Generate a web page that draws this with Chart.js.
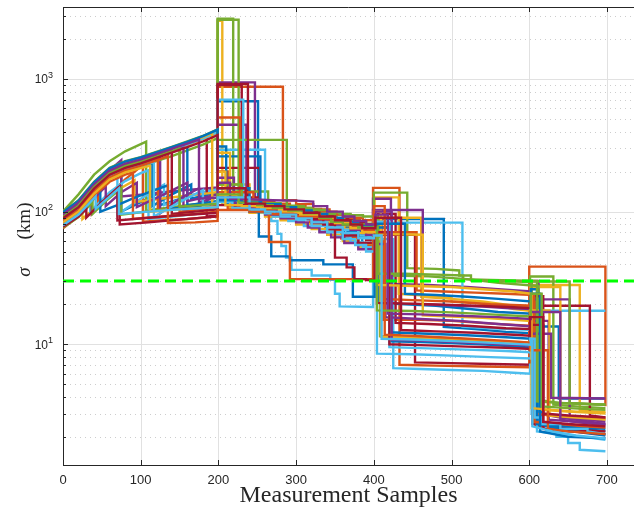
<!DOCTYPE html>
<html>
<head>
<meta charset="utf-8">
<script src="https://cdn.jsdelivr.net/npm/chart.js@4.4.1/dist/chart.umd.min.js"></script>
<style>
  html, body { margin: 0; padding: 0; background: #fff; }
  #plot { display: block; }
</style>
</head>
<body>
<canvas id="plot" width="634" height="510"></canvas>
<script>
// axis setup
const xTickValues = [0, 100, 200, 300, 400, 500, 600, 700];
const yDecades = [10, 100, 1000];
const yMinorFactors = [2, 3, 4, 5, 6, 7, 8, 9];
const xRange = [0, 734.8];
const yRange = [1.228, 3494];
const threshold = 30;

// matlab default colour order, runs cycle through it
const runColors = ['#0072BD', '#D95319', '#EDB120', '#7E2F8E', '#77AC30', '#4DBEEE', '#A2142F'];

// each run: x, sigma pairs
const r01 = [0,90, 20,110, 40,152, 60,193, 75,212, 75,100, 100,118, 125,140, 125,112, 160,130, 199,150, 199,680, 251,680, 251,112, 272,112, 272,104, 295,104, 295,95, 318,95, 318,86, 340,86, 340,76, 362,76, 362,66, 385,66, 385,58, 402,58, 402,88, 490,88, 490,13.5, 530,13, 570,12.4, 602,12.1, 602,13.6, 638,13.6, 638,3.9, 698,3.9];
const r02 = [0,75, 20,92, 40,125, 45,132, 45,108, 60,135, 80,175, 103,225, 103,84, 130,86, 160,88, 199,92, 199,875, 283,875, 283,122, 300,122, 300,114, 322,114, 322,104, 343,104, 343,95, 362,95, 362,87, 382,87, 382,79, 399,79, 399,151, 433,151, 433,7.0, 480,6.9, 540,6.8, 600,6.7, 600,38.5, 698,38.5, 698,3.4];
const r03 = [0,95, 20,117, 40,160, 60,205, 80,230, 100,248, 120,272, 140,298, 160,328, 180,362, 199,405, 199,2750, 205,2750, 205,113, 232,113, 232,108, 255,108, 255,102, 276,102, 276,95, 298,95, 298,88, 318,88, 318,80, 338,80, 338,71, 358,71, 358,63, 380,63, 380,56, 401,56, 401,128, 432,128, 432,24, 470,23.2, 500,22.2, 500,21, 530,20.6, 560,19.6, 580,18.4, 602,17.8, 602,28, 665,28, 665,3.2, 698,3.05];
const r04 = [0,85, 20,102, 40,145, 60,205, 75,245, 75,130, 100,134, 130,140, 160,146, 199,152, 199,943, 247,943, 247,118, 268,118, 268,111, 292,111, 292,104, 318,104, 318,96, 345,96, 345,88, 372,88, 372,80, 399,80, 399,125, 422,125, 422,28.5, 470,28, 520,27, 560,26, 603,25, 603,30, 612,30, 612,3.0, 640,2.8, 670,2.65, 698,2.5];
const r05 = [0,100, 20,135, 40,190, 60,240, 80,285, 107,337, 107,102, 140,108, 170,114, 199,120, 199,2850, 219,2850, 219,142, 264,142, 264,108, 288,108, 288,102, 310,102, 310,96, 330,96, 330,90, 350,90, 350,84, 370,84, 370,78, 386,78, 386,73, 400,73, 400,139, 443,139, 443,37.5, 480,37, 510,36, 510,33, 525,33, 525,30.5, 560,30, 601,29.5, 601,32.4, 631,32.4, 631,3.5, 660,3.4, 698,3.3];
const r06 = [0,92, 20,110, 40,150, 60,192, 70,205, 70,95, 100,125, 130,160, 130,112, 170,135, 199,148, 199,293, 260,293, 260,100, 268,100, 268,85, 276,85, 276,68, 281,68, 281,55, 287,55, 287,45, 294,45, 294,36.4, 320,36.4, 320,33, 344,33, 344,30.6, 350,30.6, 350,24, 356,24, 356,19.3, 399,19.1, 399,82.6, 514,82.6, 514,13.6, 550,13.2, 604,12.8, 604,17.9, 698,17.9];
const r07 = [0,96, 20,118, 40,162, 60,208, 80,233, 100,251, 120,274, 140,300, 160,330, 185,380, 185,92, 199,93, 199,214, 253,214, 253,110, 278,110, 278,103, 300,103, 300,96, 328,96, 328,87, 350,87, 350,77, 370,77, 370,68, 390,68, 390,61, 403,61, 403,67, 453,67, 453,7.3, 500,7.2, 550,7.1, 602,7.0, 602,19.5, 678,19.5, 678,2.9, 698,2.8];
const r08 = [0,88, 20,105, 40,145, 60,185, 80,207, 100,222, 115,232, 115,110, 140,135, 165,160, 165,125, 199,140, 199,261, 254,261, 254,115, 275,115, 275,109, 298,109, 298,102, 322,102, 322,94, 344,94, 344,86, 360,86, 360,78, 380,78, 380,72, 406,72, 406,20.5, 440,20, 480,19.5, 520,18.5, 560,17.5, 604,17, 604,22, 616,22, 616,2.6, 650,2.4, 698,2.2];
const r09 = [0,98, 20,120, 40,165, 60,210, 80,236, 100,254, 120,277, 140,303, 150,316, 150,100, 175,104, 199,107, 199,201, 212,201, 212,105, 240,105, 240,102, 262,102, 262,98, 288,98, 288,92, 318,92, 318,84, 338,84, 338,72, 358,72, 358,63, 380,63, 380,55, 400,55, 400,60, 412,60, 412,15.3, 460,15.3, 500,15, 550,14.3, 601,13.8, 601,22.5, 608,22.5, 608,2.4, 640,2.3, 670,2.2, 698,2.1];
const r10 = [0,78, 25,100, 25,88, 45,112, 65,140, 92,172, 92,118, 120,124, 150,130, 175,135, 199,140, 199,160, 240,160, 240,98, 260,98, 260,92, 280,92, 280,86, 300,86, 300,80, 320,80, 320,74, 340,74, 340,67, 360,67, 360,60, 380,60, 380,54, 400,54, 400,90, 461,90, 461,22.8, 500,22, 540,21, 580,19.5, 602,19, 602,27, 640,27, 640,2.9, 698,2.7];
const r11 = [0,93, 20,114, 40,156, 60,200, 80,226, 100,243, 125,270, 125,97, 150,125, 175,150, 175,118, 199,128, 199,452, 236,452, 236,112, 260,112, 260,107, 288,107, 288,100, 318,100, 318,93, 348,93, 348,84, 372,84, 372,77, 399,77, 399,103, 463,103, 463,20, 500,19.6, 540,19.2, 575,18.7, 603,18.4, 603,21.8, 652,21.8, 652,2.8, 698,2.6];
const r12 = [0,86, 20,103, 40,142, 60,182, 80,205, 100,220, 120,240, 140,262, 160,290, 180,320, 199,358, 199,2800, 226,2800, 226,118, 250,118, 250,113, 270,113, 270,108, 290,108, 290,103, 312,103, 312,98, 332,98, 332,93, 352,93, 352,89, 368,89, 368,85, 385,85, 385,81, 408,81, 408,11.5, 450,11.2, 500,10.8, 550,10.3, 603,9.8, 603,29.7, 652,29.7, 652,3.6, 698,3.5];
const r13 = [0,82, 20,98, 35,122, 35,100, 60,140, 80,170, 100,195, 110,205, 110,88, 140,92, 170,96, 199,99, 199,125, 230,125, 230,104, 250,104, 250,99, 270,99, 270,92, 290,92, 290,85, 310,85, 310,78, 330,78, 330,71, 350,71, 350,65, 370,65, 370,59, 386,59, 386,54, 399,54, 399,62, 425,62, 425,6.6, 460,6.5, 500,6.4, 540,6.3, 580,6.1, 601,6.0, 601,7.0, 603,7.0, 603,3.0, 612,3.0, 612,2.5, 622,2.5, 622,2.2, 635,2.2, 635,2.0, 650,2.0, 650,1.8, 665,1.8, 665,1.6, 698,1.56];
const r14 = [0,84, 20,100, 37,130, 37,96, 55,122, 73,155, 73,80, 110,83, 150,87, 199,92, 199,900, 230,900, 230,128, 250,128, 250,121, 270,121, 270,114, 290,114, 290,107, 310,107, 310,100, 330,100, 330,94, 350,94, 350,88, 372,88, 372,84, 390,84, 390,80, 405,80, 405,96, 428,96, 428,14.5, 470,14.2, 520,13.8, 570,13.2, 604,13, 604,2.5, 640,2.35, 670,2.25, 698,2.2];
const r15 = [0,96, 20,118, 40,162, 60,206, 80,232, 100,250, 120,273, 140,299, 160,328, 160,112, 180,116, 199,120, 199,310, 210,310, 210,116, 240,116, 240,112, 262,112, 262,108, 282,108, 282,104, 302,104, 302,99, 322,99, 322,94, 336,94, 336,88, 350,88, 350,79, 366,79, 366,70, 382,70, 382,64, 400,64, 400,76, 420,76, 420,10.5, 460,10.4, 500,10.2, 550,9.9, 602,9.4, 602,12, 612,12, 612,2.5, 640,2.3, 670,2.15, 698,2.05];
const r16 = [0,90, 20,110, 40,150, 60,190, 80,214, 100,230, 122,253, 122,103, 160,108, 199,113, 199,513, 228,513, 228,124, 250,124, 250,119, 272,119, 272,115, 292,115, 292,110, 312,110, 312,105, 332,105, 332,100, 352,100, 352,95, 370,95, 370,90, 386,90, 386,86, 410,86, 410,22, 450,21.5, 500,21, 550,20, 605,19.5, 605,3.0, 630,2.9, 660,2.85, 698,2.75];
const r17 = [0,88, 20,108, 40,150, 60,195, 80,222, 100,240, 120,263, 140,290, 160,318, 180,352, 199,395, 199,278, 215,278, 215,108, 240,108, 240,105, 262,105, 262,101, 282,101, 282,96, 302,96, 302,90, 322,90, 322,84, 342,84, 342,79, 362,79, 362,74, 380,74, 380,69, 400,69, 400,100, 409,100, 409,11.4, 450,11.3, 500,11, 550,10.6, 602,10.3, 602,14, 615,14, 615,3.2, 650,3.1, 698,3.0];
const r18 = [0,80, 20,96, 55,155, 55,110, 75,140, 95,165, 95,108, 130,135, 160,165, 160,120, 199,135, 199,180, 220,180, 220,104, 240,104, 240,100, 260,100, 260,95, 280,95, 280,89, 300,89, 300,83, 315,83, 315,76, 330,76, 330,70, 345,70, 345,64, 362,64, 362,58, 380,58, 380,52, 402,52, 402,57, 415,57, 415,16, 460,15.5, 510,15, 560,14.2, 604,13.6, 604,15, 625,15, 625,2.7, 660,2.6, 698,2.5];
const r19 = [0,76, 20,91, 38,118, 38,96, 55,120, 75,150, 75,95, 100,99, 130,104, 160,108, 199,113, 199,348, 288,348, 288,110, 310,110, 310,104, 330,104, 330,96, 350,96, 350,89, 362,89, 362,85, 372,85, 372,80, 386,80, 386,76, 402,76, 402,82, 420,82, 420,33, 470,32.5, 520,31, 560,29, 612,27.5, 612,3.8, 640,3.6, 670,3.55, 698,3.5];
const r20 = [0,94, 20,115, 40,158, 60,200, 80,226, 100,244, 120,268, 140,294, 160,322, 180,355, 199,398, 199,700, 232,700, 232,110, 250,110, 250,107, 270,107, 270,102, 290,102, 290,96, 305,96, 305,91, 322,91, 322,85, 340,85, 340,79, 360,79, 360,73, 380,73, 380,66, 404,66, 404,8.5, 450,8.4, 500,8.2, 550,8, 602,7.8, 602,10, 610,10, 610,2.2, 640,2.1, 670,2.0, 698,1.9];
const r21 = [0,92, 20,112, 40,154, 60,196, 80,222, 100,238, 120,262, 140,288, 140,96, 170,100, 199,104, 199,920, 238,920, 238,105, 260,105, 260,100, 280,100, 280,95, 300,95, 300,89, 320,89, 320,82, 340,82, 340,74, 360,74, 360,66, 380,66, 380,58, 404,58, 404,20.5, 450,20.2, 500,19.8, 540,19.4, 580,19, 605,18.7, 605,23, 618,23, 618,2.3, 650,2.2, 698,2.1];
const r22 = [0,85, 20,102, 40,140, 48,152, 48,100, 70,112, 90,126, 110,140, 135,158, 135,105, 170,110, 199,115, 199,150, 240,150, 240,100, 252,100, 252,65, 268,65, 268,46, 292,46, 292,43, 335,43, 335,40, 373,40, 373,22.8, 401,22.8, 401,76, 420,76, 420,12.3, 470,12, 520,11.7, 570,11.3, 602,11, 602,26, 610,26, 610,2.5, 640,2.4, 698,2.3];
const r23 = [0,80, 20,96, 40,132, 60,168, 80,190, 90,198, 90,88, 130,92, 170,96, 199,100, 199,140, 245,140, 245,108, 265,108, 265,59, 292,59, 292,31, 399,31, 399,70, 455,70, 455,25.5, 490,25, 530,24.5, 570,24, 606,23.5, 606,2.6, 640,2.5, 670,2.4, 698,2.35];
const r24 = [0,97, 20,119, 40,163, 60,208, 80,233, 100,251, 120,275, 140,301, 160,330, 180,365, 192,392, 192,108, 199,109, 199,132, 225,132, 225,112, 250,112, 250,108, 275,108, 275,103, 300,103, 300,98, 320,98, 320,92, 340,92, 340,86, 360,86, 360,79, 380,79, 380,73, 399,73, 399,68, 463,67, 463,16.5, 500,16.2, 540,15.8, 580,15.3, 601,15, 601,18, 626,18, 626,2.9, 660,2.8, 698,2.7];
const r25 = [0,90, 20,110, 40,152, 60,194, 80,218, 100,235, 120,258, 140,283, 155,303, 155,104, 180,107, 199,110, 199,128, 222,128, 222,107, 245,107, 245,104, 270,104, 270,99, 295,99, 295,93, 320,93, 320,87, 345,87, 345,80, 370,80, 370,73, 390,73, 390,67, 402,67, 402,100, 423,100, 423,10.8, 470,10.6, 520,10.3, 570,10, 602,9.8, 602,12, 628,12, 628,3.95, 698,3.9];
const r26 = [0,99, 20,122, 40,168, 60,214, 80,240, 100,258, 120,282, 140,308, 160,338, 180,372, 199,418, 199,160, 230,160, 230,120, 255,120, 255,116, 280,116, 280,111, 300,111, 300,107, 320,107, 320,103, 340,103, 340,99, 356,99, 356,96, 370,96, 370,94, 386,94, 386,92, 405,92, 405,34, 440,34, 480,33.5, 515,33, 515,31, 550,30.5, 610,30, 610,3.7, 640,3.6, 698,3.5];
const r27 = [0,87, 20,104, 40,143, 60,182, 80,206, 100,222, 117,236, 117,92, 150,118, 180,145, 180,110, 199,118, 218,118, 218,106, 240,106, 240,102, 260,102, 260,97, 280,97, 280,92, 300,92, 300,87, 320,87, 320,78, 340,78, 340,70, 360,70, 360,62, 376,62, 376,56, 390,56, 390,50, 401,50, 401,84, 420,84, 420,9.5, 470,9.3, 520,9.1, 570,8.9, 601,8.7, 601,11, 607,11, 607,2.8, 615,2.8, 615,2.5, 640,2.5, 640,2.3, 675,2.3, 675,2.2, 698,2.1];
const r28 = [0,77, 20,92, 30,105, 30,90, 50,118, 70,150, 70,86, 110,90, 150,94, 199,98, 199,112, 255,112, 255,104, 275,104, 275,99, 295,99, 295,94, 315,94, 315,88, 335,88, 335,80, 350,80, 350,45, 365,45, 365,38, 375,38, 375,31, 390,31, 390,30.5, 401,30.5, 401,70, 420,70, 420,10, 470,9.8, 520,9.6, 570,9.4, 603,9.2, 603,14, 618,14, 618,3.0, 650,2.9, 698,2.8];
const r29 = [0,99, 20,121, 40,166, 60,212, 80,238, 100,256, 120,280, 140,306, 160,336, 180,371, 199,416, 199,122, 230,122, 230,118, 255,118, 255,114, 280,114, 280,108, 300,108, 300,102, 320,102, 320,96, 340,96, 340,90, 360,90, 360,84, 380,84, 380,78, 403,78, 403,81, 440,81, 440,24, 480,23.5, 520,22.8, 560,22, 602,21, 602,24, 614,24, 614,2.2, 650,2.0, 698,1.95];
const r30 = [0,86, 20,103, 40,142, 60,181, 80,205, 100,221, 120,244, 135,262, 135,82, 170,83, 199,85, 199,103, 240,103, 240,100, 270,100, 270,96, 300,96, 300,92, 330,92, 330,88, 350,88, 350,82, 370,82, 370,76, 385,76, 385,72, 400,72, 400,110, 414,110, 414,11.8, 460,11.5, 510,11.1, 560,10.7, 601,10.3, 601,9.0, 624,9.0, 624,2.3, 650,2.2, 698,2.1];
const r31 = [0,83, 20,100, 40,137, 60,175, 80,198, 100,213, 112,222, 112,100, 150,104, 199,109, 199,200, 209,200, 209,112, 230,112, 230,110, 255,110, 255,106, 280,106, 280,100, 305,100, 305,95, 330,95, 330,90, 350,90, 350,82, 370,82, 370,75, 385,75, 385,70, 404,70, 404,28, 450,27.5, 500,27, 540,26, 580,25, 603,24, 603,3.3, 630,3.2, 660,3.1, 698,3.1];
const r32 = [0,95, 20,117, 40,160, 60,204, 80,229, 100,247, 120,271, 140,297, 160,326, 175,350, 175,125, 199,128, 199,165, 215,165, 215,125, 240,124, 270,122, 300,121, 322,119, 322,110, 340,110, 340,100, 360,100, 360,92, 375,92, 375,85, 390,85, 390,80, 402,80, 402,95, 418,95, 418,17, 460,16.8, 510,16.4, 560,16, 602,15.5, 602,17.5, 640,17.5, 640,2.7, 670,2.55, 698,2.45];
const r33 = [0,91, 20,111, 40,153, 60,195, 80,220, 100,237, 120,260, 140,285, 150,300, 150,109, 175,112, 199,115, 199,135, 226,135, 226,117, 250,117, 250,112, 270,112, 270,107, 290,107, 290,102, 310,102, 310,97, 330,97, 330,90, 345,90, 345,84, 360,84, 360,80, 380,80, 380,76, 404,76, 404,18, 450,17.8, 500,17.4, 550,16.8, 602,16.2, 602,24, 616,24, 616,3.4, 650,3.3, 698,3.2];
const r34 = [0,79, 20,95, 42,130, 42,105, 60,130, 72,150, 72,96, 110,100, 150,104, 199,108, 199,128, 240,128, 240,104, 260,104, 260,100, 280,100, 280,95, 300,95, 300,89, 320,89, 320,83, 340,83, 340,76, 360,76, 360,69, 380,69, 380,63, 400,63, 400,66, 410,66, 410,11, 460,10.8, 510,10.5, 560,10.2, 602,9.9, 602,11, 604,11, 604,2.4, 630,2.2, 660,2.05, 698,1.95];
const r35 = [0,89, 20,108, 40,149, 60,190, 80,214, 100,231, 120,254, 140,279, 160,306, 180,338, 199,378, 199,150, 235,150, 235,115, 260,115, 260,110, 285,110, 285,104, 310,104, 310,98, 330,98, 330,92, 350,92, 350,86, 370,86, 370,80, 385,80, 385,75, 402,75, 402,90, 435,90, 435,12.8, 480,12.5, 530,12.2, 580,11.8, 601,11.6, 601,16, 618,16, 618,2.6, 650,2.5, 698,2.4];

const runs = [r01, r02, r03, r04, r05, r06, r07, r08, r09, r10, r11, r12, r13, r14, r15, r16, r17, r18,
              r19, r20, r21, r22, r23, r24, r25, r26, r27, r28, r29, r30, r31, r32, r33, r34, r35];

function toPoints(flat) {
    const pts = [];
    for (let i = 0; i < flat.length; i += 2) pts.push({ x: flat[i], y: flat[i + 1] });
    return pts;
}

const datasets = runs.map((r, i) => ({
    data: toPoints(r),
    borderColor: runColors[i % runColors.length],
    borderWidth: 2.4,
    order: 100 - i // later runs on top, like matlab
}));

// the dashed limit line goes on top of everything
datasets.push({
    data: [{ x: xRange[0], y: threshold }, { x: xRange[1], y: threshold }],
    borderColor: '#00FF00',
    borderWidth: 3,
    borderDash: [11, 6],
    order: 0
});

const ink = '#262626';

// matlab-ish axes: dotted minor grid, inward ticks, box top, 10^n labels
const axesLook = {
    id: 'axesLook',
    beforeDatasetsDraw(chart) {
        const { ctx, chartArea: a, scales: { x, y } } = chart;
        ctx.save();
        ctx.lineWidth = 1;

        ctx.strokeStyle = '#cdcdcd';
        ctx.setLineDash([1, 4]);
        [1, 10, 100, 1000].forEach(d => {
            yMinorFactors.forEach(k => {
                const v = d * k;
                if (v <= yRange[0] || v >= yRange[1]) return;
                const py = Math.round(y.getPixelForValue(v)) + 0.5;
                ctx.beginPath(); ctx.moveTo(a.left + 2, py); ctx.lineTo(a.right, py); ctx.stroke();
            });
        });
        ctx.setLineDash([]);

        ctx.strokeStyle = '#e1e1e1';
        xTickValues.forEach(v => {
            if (v === 0) return;
            const px = Math.round(x.getPixelForValue(v)) + 0.5;
            ctx.beginPath(); ctx.moveTo(px, a.top); ctx.lineTo(px, a.bottom); ctx.stroke();
        });
        yDecades.forEach(v => {
            const py = Math.round(y.getPixelForValue(v)) + 0.5;
            ctx.beginPath(); ctx.moveTo(a.left, py); ctx.lineTo(a.right, py); ctx.stroke();
        });
        ctx.restore();
    },
    afterDatasetsDraw(chart) {
        const { ctx, chartArea: a, scales: { x, y } } = chart;
        ctx.save();
        ctx.strokeStyle = ink;
        ctx.lineWidth = 1;

        // top edge of the box
        ctx.beginPath(); ctx.moveTo(a.left, a.top + 0.5); ctx.lineTo(a.right, a.top + 0.5); ctx.stroke();

        // x ticks, pointing in, top and bottom
        xTickValues.forEach(v => {
            const px = Math.round(x.getPixelForValue(v)) + 0.5;
            ctx.beginPath();
            ctx.moveTo(px, a.bottom); ctx.lineTo(px, a.bottom - 5);
            ctx.moveTo(px, a.top); ctx.lineTo(px, a.top + 5);
            ctx.stroke();
        });

        // y ticks
        [1, 10, 100, 1000].forEach(d => {
            yMinorFactors.forEach(k => {
                const v = d * k;
                if (v <= yRange[0] || v >= yRange[1]) return;
                const py = Math.round(y.getPixelForValue(v)) + 0.5;
                ctx.beginPath(); ctx.moveTo(a.left, py); ctx.lineTo(a.left + 3, py); ctx.stroke();
            });
        });
        yDecades.forEach(v => {
            const py = Math.round(y.getPixelForValue(v)) + 0.5;
            ctx.beginPath(); ctx.moveTo(a.left, py); ctx.lineTo(a.left + 5, py); ctx.stroke();
        });

        // 10^n labels
        ctx.fillStyle = ink;
        ctx.textAlign = 'right';
        ctx.textBaseline = 'middle';
        yDecades.forEach(v => {
            const py = y.getPixelForValue(v);
            const exp = String(Math.round(Math.log10(v)));
            const right = a.left - 10;
            ctx.font = '9px "Liberation Sans", Arial, sans-serif';
            const we = ctx.measureText(exp).width;
            ctx.fillText(exp, right, py - 4);
            ctx.font = '12px "Liberation Sans", Arial, sans-serif';
            ctx.fillText('10', right - we, py + 1);
        });

        // y title: sigma (km), rotated
        ctx.translate(25, 0);
        ctx.rotate(-Math.PI / 2);
        ctx.textAlign = 'center';
        ctx.font = 'italic 19px "Liberation Serif", serif';
        ctx.fillText('σ', -272, 0);
        ctx.font = '19px "Liberation Serif", serif';
        ctx.fillText('(km)', -221, 0);
        ctx.restore();
    }
};

new Chart(document.getElementById('plot'), {
    type: 'line',
    data: { datasets },
    plugins: [axesLook],
    options: {
        responsive: false,
        animation: false,
        devicePixelRatio: 1,
        layout: { padding: { top: 7, right: 0, bottom: 0, left: 0 } },
        plugins: { legend: { display: false }, tooltip: { enabled: false } },
        elements: {
            point: { radius: 0 },
            line: { tension: 0, borderJoinStyle: 'miter', borderCapStyle: 'butt', fill: false }
        },
        scales: {
            x: {
                type: 'linear',
                min: xRange[0],
                max: xRange[1],
                afterBuildTicks: s => { s.ticks = xTickValues.map(v => ({ value: v })); },
                afterFit: s => { s.height = 45; },
                grid: { display: false, drawTicks: false },
                border: { color: ink, width: 1 },
                ticks: {
                    color: ink,
                    padding: 8,
                    maxRotation: 0,
                    font: { family: '"Liberation Sans", Arial, sans-serif', size: 13 }
                },
                title: {
                    display: true,
                    text: 'Measurement Samples',
                    color: ink,
                    font: { family: '"Liberation Serif", serif', size: 24 },
                    padding: { top: 0, bottom: 0 }
                }
            },
            y: {
                type: 'logarithmic',
                min: yRange[0],
                max: yRange[1],
                afterBuildTicks: s => { s.ticks = yDecades.map(v => ({ value: v })); },
                afterFit: s => { s.width = 63; },
                grid: { display: false, drawTicks: false },
                border: { color: ink, width: 1 },
                ticks: { display: false }
            }
        }
    }
});
</script>
</body>
</html>
